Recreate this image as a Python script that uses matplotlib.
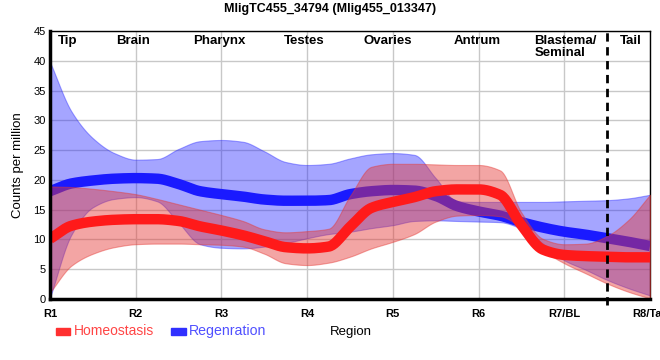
import matplotlib
matplotlib.use("Agg")
import matplotlib.pyplot as plt
from matplotlib.patches import Rectangle
import numpy as np

plt.rcParams['font.family'] = ['Liberation Sans', 'DejaVu Sans']

# region positions (index units, read at quarter steps between R1 and R8)
pos = np.arange(0, 7.01, 0.25)
tick_labels = ['R1', 'R2', 'R3', 'R4', 'R5', 'R6', 'R7/BL', 'R8/Tail']
regions = ['Tip', 'Brain', 'Pharynx', 'Testes', 'Ovaries', 'Antrum', 'Blastema/\nSeminal', 'Tail']
region_x = [0.21, 0.97, 1.98, 2.96, 3.94, 4.98, 5.65, 6.78]

homeo_mean = [10.1, 12.3, 13.0, 13.3, 13.4, 13.4, 13.1, 12.2, 11.5, 10.7, 9.7, 8.7, 8.5, 8.8,
              12.1, 15.3, 16.3, 17.1, 18.1, 18.4, 18.4, 17.5, 12.4, 8.3, 7.4, 7.2, 7.1, 7.0, 7.0]
homeo_hi = [18.9, 18.8, 18.5, 18.1, 17.6, 16.8, 15.9, 15.0, 14.1, 13.1, 11.7, 11.2, 11.4, 11.8,
            17.3, 22.2, 22.7, 22.7, 22.6, 22.5, 22.5, 21.6, 14.5, 10.1, 9.2, 9.3, 10.6, 13.3, 17.5]
homeo_lo = [1.1, 5.6, 7.6, 8.7, 9.2, 9.3, 9.3, 9.2, 9.1, 8.8, 7.6, 6.0, 5.7, 6.1,
            7.1, 8.5, 9.6, 10.9, 13.0, 14.0, 14.1, 13.9, 11.9, 8.2, 6.0, 4.3, 2.6, 1.2, 0.1]

regen_mean = [18.1, 19.4, 19.9, 20.2, 20.3, 20.2, 19.3, 18.1, 17.6, 17.2, 16.7, 16.5, 16.5, 16.6,
              17.6, 18.1, 18.3, 18.2, 17.3, 15.6, 14.7, 14.0, 12.9, 12.0, 11.3, 10.8, 10.2, 9.6, 8.9]
regen_hi = [39.8, 31.5, 27.0, 24.5, 23.4, 23.5, 25.2, 26.5, 26.7, 26.4, 24.8, 23.0, 22.5, 22.7,
            23.6, 24.3, 24.5, 24.2, 20.3, 16.4, 16.3, 16.3, 16.3, 16.3, 16.4, 16.5, 16.6, 16.9, 17.5]
regen_lo = [0.2, 10.8, 15.4, 16.8, 17.1, 16.4, 12.8, 9.2, 8.6, 8.5, 8.8, 9.4, 10.2, 10.9,
            11.3, 11.9, 12.4, 13.1, 13.2, 13.1, 13.0, 12.9, 11.8, 9.3, 6.5, 4.9, 3.2, 1.8, 0.6]


def smooth(x, y, n=600):
    # monotone cubic curve through the points, like a d3 monotone line
    x = np.asarray(x, float)
    y = np.asarray(y, float)
    h = np.diff(x)
    d = np.diff(y) / h
    m = np.zeros_like(y)
    m[0], m[-1] = d[0], d[-1]
    for i in range(1, len(y) - 1):
        if d[i - 1] * d[i] > 0:
            w1 = 2 * h[i] + h[i - 1]
            w2 = h[i] + 2 * h[i - 1]
            m[i] = (w1 + w2) / (w1 / d[i - 1] + w2 / d[i])
    xs = np.linspace(x[0], x[-1], n)
    idx = np.clip(np.searchsorted(x, xs) - 1, 0, len(x) - 2)
    t = (xs - x[idx]) / h[idx]
    h00 = 2 * t**3 - 3 * t**2 + 1
    h10 = t**3 - 2 * t**2 + t
    h01 = -2 * t**3 + 3 * t**2
    h11 = t**3 - t**2
    ys = h00 * y[idx] + h10 * h[idx] * m[idx] + h01 * y[idx + 1] + h11 * h[idx] * m[idx + 1]
    return xs, ys


fig = plt.figure(figsize=(6.6, 3.6), dpi=100)
ax = fig.add_axes([50 / 660, 61 / 360, 600 / 660, 268 / 360])

red = '#e53935'
blue = '#2020ff'

xs, lo = smooth(pos, regen_lo)
_, hi = smooth(pos, regen_hi)
ax.fill_between(xs, lo, hi, color=blue, alpha=0.4, lw=0.8, zorder=2)
xs, ym = smooth(pos, regen_mean)
ax.plot(xs, ym, color='#1a1aff', lw=7.5, solid_capstyle='butt', zorder=3)

xs, lo = smooth(pos, homeo_lo)
_, hi = smooth(pos, homeo_hi)
ax.fill_between(xs, lo, hi, color=red, alpha=0.45, lw=0.8, zorder=4)
xs, ym = smooth(pos, homeo_mean)
ax.plot(xs, ym, color='#ff1a1a', lw=7.5, solid_capstyle='butt', zorder=5)

ax.plot([6.5, 6.5], [-1, 45], color='black', lw=2, ls=(0, (3, 2)), clip_on=False, zorder=6)

ax.set_xlim(0, 7)
ax.set_ylim(0, 45)
ax.set_xticks(range(8))
ax.set_xticklabels(tick_labels, fontsize=8, fontweight='bold')
ax.set_yticks(range(0, 46, 5))
ax.tick_params(axis='both', length=0, labelsize=8)
ax.tick_params(axis='x', pad=7)
ax.tick_params(axis='y', pad=3)
ax.grid(True, color='#c8c8c8', lw=1)
ax.set_axisbelow(True)
for s in ['top', 'right']:
    ax.spines[s].set_linewidth(1)
for s in ['left', 'bottom']:
    ax.spines[s].set_linewidth(2.5)
    ax.spines[s].set_zorder(7)

for x, name in zip(region_x, regions):
    ha = 'left' if '\n' in name else 'center'
    ax.text(x, 44.3, name, ha=ha, va='top', fontsize=9.5, fontweight='bold',
            linespacing=1.0, zorder=8)

ax.set_ylabel('Counts per million', fontsize=9.5, labelpad=7)
fig.text(351 / 660, 1 - 332 / 360, 'Region', ha='center', va='center', fontsize=9.5)
fig.text(330 / 660, 1 - 9 / 360, 'MligTC455_34794 (Mlig455_013347)', ha='center',
         va='center', fontsize=9, fontweight='bold')

# legend
fig.patches.append(Rectangle((56 / 660, 1 - 335 / 360), 14 / 660, 7 / 360,
                             transform=fig.transFigure, color='#ff3030'))
fig.text(74 / 660, 1 - 331 / 360, 'Homeostasis', color='#ff4545', fontsize=10, va='center')
fig.patches.append(Rectangle((171 / 660, 1 - 335 / 360), 15 / 660, 7 / 360,
                             transform=fig.transFigure, color='#3030ff'))
fig.text(189 / 660, 1 - 331 / 360, 'Regenration', color='#5050ff', fontsize=10.2, va='center')

fig.savefig('out.png', dpi=100)
